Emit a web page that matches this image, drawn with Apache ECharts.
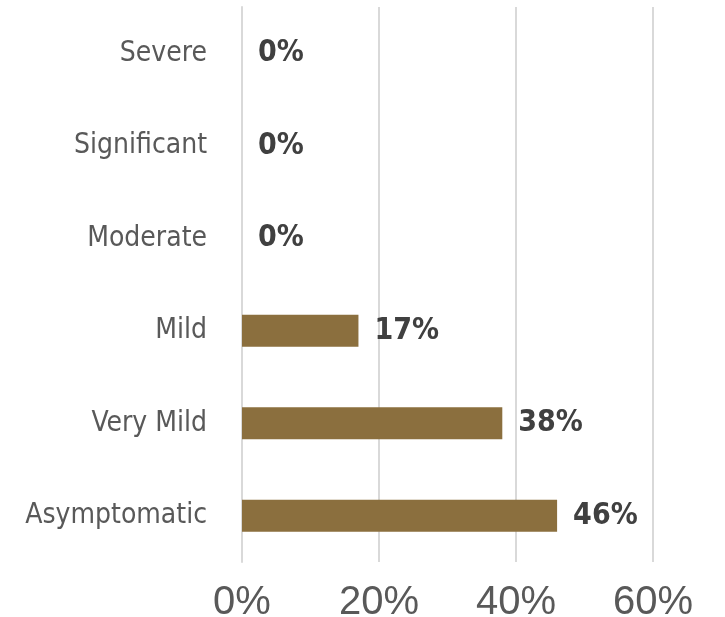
<!DOCTYPE html>
<html>
<head>
<meta charset="utf-8">
<script src="https://cdn.jsdelivr.net/npm/echarts@6/dist/echarts.min.js"></script>
<style>
  html, body { margin: 0; padding: 0; background: #fff; }
</style>
</head>
<body>
<div id="chart" style="width: 725px;height:617px;"></div>
<script>
// categories from bottom to top
var categories = ['Asymptomatic', 'Very Mild', 'Mild', 'Moderate', 'Significant', 'Severe']
var values = [0.46, 0.38, 0.17, 0, 0, 0]
var axisMax = 0.6
var axisStep = 0.2

var narrow = '"Liberation Sans Narrow", "DejaVu Sans Condensed", sans-serif'

var option = {
  animation: false,
  grid: {
    left: 242,
    right: 72,
    top: 7,
    bottom: 55,
    outerBoundsMode: 'none'
  },
  xAxis: {
    type: 'value',
    min: 0,
    max: axisMax,
    interval: axisStep,
    axisLine: { show: false },
    axisTick: { show: false },
    splitLine: {
      show: true,
      lineStyle: { color: '#d9d9d9', width: 2 }
    },
    axisLabel: {
      margin: 21,
      color: '#595959',
      fontSize: 40,
      fontFamily: '"Liberation Sans", Arial, sans-serif',
      formatter: function (v) {
        return Math.round(v * 100) + '%'
      }
    }
  },
  yAxis: {
    type: 'category',
    data: categories,
    axisLine: {
      show: true,
      lineStyle: { color: '#d9d9d9', width: 2 }
    },
    axisTick: { show: false },
    axisLabel: {
      margin: 35,
      color: '#595959',
      fontSize: 28,
      fontFamily: narrow
    }
  },
  series: [
    {
      type: 'bar',
      data: values,
      barWidth: 32,
      itemStyle: { color: '#8b6f3e' },
      label: {
        show: true,
        position: 'right',
        distance: 16,
        color: '#404040',
        fontSize: 30,
        fontWeight: 'bold',
        fontFamily: narrow,
        formatter: function (p) {
          return Math.round(p.value * 100) + '%'
        }
      }
    }
  ]
}

var myChart = echarts.init(document.getElementById('chart'))
myChart.setOption(option)
</script>
</body>
</html>
